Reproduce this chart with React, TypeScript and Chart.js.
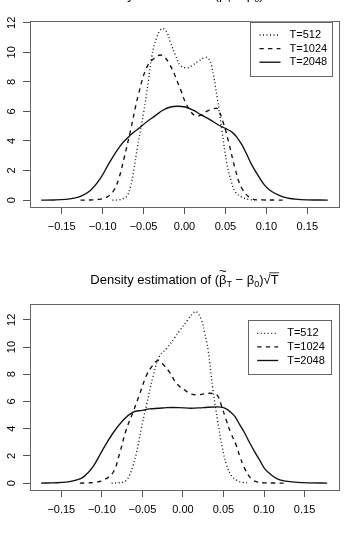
import { useEffect, useRef } from "react";
import { Chart, registerables } from "chart.js";

Chart.register(...registerables);

const FONT = '"Liberation Sans", Arial, Helvetica, sans-serif';

// Axis tick values
const xTicks = [-0.15, -0.1, -0.05, 0, 0.05, 0.1, 0.15];
const yTicks = [0, 2, 4, 6, 8, 10, 12];
const seriesLabels = ["T=512", "T=1024", "T=2048"];

// Upper panel: kernel density of (beta-hat_T - beta_0) * sqrt(T)
const hatX512 = [-0.088, -0.08, -0.074, -0.07, -0.066, -0.062, -0.058, -0.05, -0.044, -0.04, -0.034, -0.0276, -0.022, -0.0174, -0.011, -0.005, 0.003, 0.009, 0.017, 0.025, 0.029, 0.033, 0.04, 0.046, 0.052, 0.057, 0.062, 0.07, 0.078, 0.086];
const hatY512 = [0, 0.02, 0.12, 0.3, 0.9, 2.0, 3.4, 5.9, 8.1, 9.7, 11.0, 11.6, 11.4, 10.7, 9.8, 9.1, 8.95, 9.1, 9.4, 9.65, 9.6, 9.1, 6.9, 4.6, 2.4, 1.3, 0.56, 0.2, 0.05, 0];
const hatX1024 = [-0.127, -0.115, -0.105, -0.095, -0.087, -0.08, -0.074, -0.066, -0.056, -0.046, -0.037, -0.0276, -0.0174, -0.005, 0.003, 0.013, 0.02, 0.027, 0.034, 0.04, 0.047, 0.054, 0.062, 0.07, 0.082, 0.095, 0.11, 0.125];
const hatY1024 = [0, 0.01, 0.05, 0.2, 0.6, 1.5, 2.8, 4.7, 7.2, 9.0, 9.6, 9.8, 9.1, 7.5, 6.4, 5.7, 5.75, 6.0, 6.15, 6.2, 5.3, 3.9, 2.1, 0.8, 0.1, 0.02, 0.005, 0];
const hatX2048 = [-0.175, -0.16, -0.145, -0.135, -0.127, -0.115, -0.103, -0.091, -0.078, -0.066, -0.056, -0.046, -0.036, -0.026, -0.017, -0.009, 0.001, 0.01, 0.021, 0.031, 0.041, 0.05, 0.058, 0.064, 0.07, 0.076, 0.082, 0.09, 0.098, 0.106, 0.115, 0.125, 0.135, 0.15, 0.175];
const hatY2048 = [0, 0.01, 0.05, 0.13, 0.25, 0.65, 1.45, 2.6, 3.7, 4.4, 4.85, 5.3, 5.7, 6.1, 6.3, 6.35, 6.3, 6.1, 5.75, 5.45, 5.1, 4.85, 4.6, 4.25, 3.75, 3.1, 2.4, 1.65, 1.0, 0.6, 0.34, 0.15, 0.07, 0.02, 0];

// Lower panel: kernel density of (beta-tilde_T - beta_0) * sqrt(T)
const tilX512 = [-0.088, -0.08, -0.074, -0.07, -0.066, -0.062, -0.057, -0.051, -0.045, -0.037, -0.029, -0.02, -0.01, -0.004, 0.006, 0.012, 0.0165, 0.0227, 0.027, 0.031, 0.037, 0.043, 0.049, 0.054, 0.06, 0.067, 0.074, 0.082];
const tilY512 = [0, 0.02, 0.07, 0.2, 0.55, 1.2, 2.3, 4.1, 5.7, 7.8, 9.3, 9.9, 10.7, 11.2, 12.0, 12.45, 12.6, 12.0, 11.0, 9.8, 6.9, 4.5, 2.5, 1.3, 0.55, 0.18, 0.05, 0];
const tilX1024 = [-0.127, -0.117, -0.107, -0.097, -0.086, -0.078, -0.07, -0.061, -0.053, -0.045, -0.038, -0.031, -0.024, -0.016, -0.01, -0.004, 0.002, 0.01, 0.02, 0.031, 0.039, 0.043, 0.047, 0.053, 0.059, 0.066, 0.07, 0.076, 0.084, 0.092, 0.101, 0.113, 0.127];
const tilY1024 = [0, 0.02, 0.07, 0.25, 0.8, 2.2, 3.9, 5.3, 6.6, 7.9, 8.6, 9.0, 8.7, 8.1, 7.5, 7.1, 6.85, 6.55, 6.5, 6.6, 6.55, 6.4, 5.8, 4.7, 3.7, 2.75, 2.0, 1.1, 0.33, 0.08, 0.02, 0.005, 0];
const tilX2048 = [-0.175, -0.16, -0.144, -0.133, -0.123, -0.111, -0.0985, -0.086, -0.074, -0.062, -0.05, -0.041, -0.03, -0.02, -0.005, 0.01, 0.025, 0.043, 0.05, 0.055, 0.06, 0.064, 0.07, 0.076, 0.082, 0.088, 0.095, 0.101, 0.109, 0.117, 0.127, 0.138, 0.155, 0.178];
const tilY2048 = [0, 0.02, 0.07, 0.2, 0.44, 1.2, 2.5, 3.7, 4.6, 5.2, 5.35, 5.45, 5.5, 5.55, 5.55, 5.5, 5.55, 5.6, 5.55, 5.4, 5.15, 4.9, 4.3, 3.7, 3.0, 2.35, 1.65, 1.05, 0.6, 0.3, 0.15, 0.07, 0.02, 0];

const dashes: number[][] = [[1, 2.5], [4.3, 4.3], []];

const fmtX = (v: number) => v.toFixed(2).replace("-", "\u2212");

// Frame around the plotting region
const framePlugin = {
  id: "frame",
  afterDraw(chart: any) {
    const { ctx, chartArea: a } = chart;
    ctx.save();
    ctx.strokeStyle = "#666";
    ctx.lineWidth = 1;
    ctx.strokeRect(Math.round(a.left) + 0.5, Math.round(a.top) + 0.5, Math.round(a.right - a.left), Math.round(a.bottom - a.top));
    ctx.restore();
  },
};

// Legend inside the plotting region, built from the datasets
const boxLegendPlugin = {
  id: "boxLegend",
  afterDraw(chart: any, _args: any, opts: any) {
    const { ctx } = chart;
    const { left, top, width, height } = opts;
    ctx.save();
    ctx.fillStyle = "#fff";
    ctx.fillRect(left, top, width, height);
    ctx.strokeStyle = "#666";
    ctx.lineWidth = 1;
    ctx.strokeRect(Math.round(left) + 0.5, Math.round(top) + 0.5, Math.round(width), Math.round(height));
    ctx.font = `11px ${FONT}`;
    ctx.textBaseline = "middle";
    ctx.fillStyle = "#000";
    chart.data.datasets.forEach((ds: any, i: number) => {
      const y = top + 13.3 + i * 13.6;
      ctx.beginPath();
      ctx.setLineDash(ds.borderDash || []);
      ctx.strokeStyle = ds.borderColor;
      ctx.lineWidth = ds.borderWidth;
      ctx.moveTo(left + 9.5, y);
      ctx.lineTo(left + 30.5, y);
      ctx.stroke();
      ctx.setLineDash([]);
      ctx.fillText(ds.label, left + 39.5, y);
    });
    ctx.restore();
  },
};

// Title with math notation: Density estimation of (beta_T - beta_0) sqrt(T)
const mathTitlePlugin = {
  id: "mathTitle",
  afterDraw(chart: any, _args: any, opts: any) {
    const { ctx, chartArea: a } = chart;
    const size = 13;
    const sub = 9;
    const main = `${size}px ${FONT}`;
    const small = `${sub}px ${FONT}`;
    const base = opts.baseline;
    ctx.save();
    ctx.fillStyle = "#000";
    ctx.textBaseline = "alphabetic";
    ctx.textAlign = "left";
    const parts: { t: string; f: string; dy: number; kind?: string }[] = [
      { t: "Density estimation of (", f: main, dy: 0 },
      { t: "\u03B2", f: main, dy: 0, kind: "accent" },
      { t: "T", f: small, dy: 3 },
      { t: " \u2212 \u03B2", f: main, dy: 0 },
      { t: "0", f: small, dy: 3 },
      { t: ")", f: main, dy: 0 },
      { t: "\u221A", f: main, dy: 0, kind: "root" },
      { t: "T", f: main, dy: 0, kind: "bar" },
    ];
    let total = 0;
    const widths = parts.map((p) => {
      ctx.font = p.f;
      const w = ctx.measureText(p.t).width;
      total += w;
      return w;
    });
    let x = (a.left + a.right) / 2 - total / 2;
    parts.forEach((p, i) => {
      ctx.font = p.f;
      ctx.fillText(p.t, x, base + p.dy);
      if (p.kind === "accent") {
        ctx.font = `${size}px ${FONT}`;
        ctx.textAlign = "center";
        ctx.fillText(opts.accent, x + widths[i] / 2, base - 9);
        ctx.textAlign = "left";
      }
      if (p.kind === "bar") {
        ctx.beginPath();
        ctx.strokeStyle = "#000";
        ctx.lineWidth = 0.8;
        ctx.moveTo(x - 1.5, base - 11.5);
        ctx.lineTo(x + widths[i] + 0.5, base - 11.5);
        ctx.stroke();
      }
      x += widths[i];
    });
    ctx.restore();
  },
};

type PanelProps = {
  top: number;
  xs: number[][];
  ys: number[][];
  xMin: number;
  xMax: number;
  yMin: number;
  yMax: number;
  accent: string;
  titleBaseline: number;
  legendLeft: number;
  legendTop: number;
  legendWidth: number;
};

function DensityPanel(props: PanelProps) {
  const ref = useRef<HTMLCanvasElement | null>(null);
  useEffect(() => {
    if (!ref.current) return;
    const datasets = seriesLabels.map((label, i) => ({
      label,
      data: props.xs[i].map((x, j) => ({ x, y: props.ys[i][j] })),
      borderColor: "#111",
      borderWidth: 1.35,
      borderDash: dashes[i],
      pointRadius: 0,
      fill: false,
      tension: 0.4,
    }));
    const tickColor = "#555";
    const chart = new Chart(ref.current, {
      type: "line",
      data: { datasets },
      plugins: [framePlugin, boxLegendPlugin, mathTitlePlugin],
      options: {
        animation: false,
        responsive: false,
        devicePixelRatio: 1,
        layout: { padding: { top: 38, right: 12, left: 0, bottom: 0 } },
        plugins: {
          legend: { display: false },
          tooltip: { enabled: false },
          boxLegend: { left: props.legendLeft, top: props.legendTop, width: props.legendWidth, height: 54.3 },
          mathTitle: { accent: props.accent, baseline: props.titleBaseline },
        } as any,
        scales: {
          x: {
            type: "linear",
            min: props.xMin,
            max: props.xMax,
            afterBuildTicks: (s: any) => {
              s.ticks = xTicks.map((v) => ({ value: v }));
            },
            afterFit: (s: any) => {
              s.height = 43;
            },
            grid: { drawOnChartArea: false, drawTicks: true, tickLength: 7, color: tickColor, lineWidth: 1 },
            border: { display: false },
            ticks: {
              autoSkip: false,
              maxRotation: 0,
              padding: 6,
              color: "#000",
              font: { family: FONT, size: 11 },
              callback: (v: any) => fmtX(Number(v)),
            },
          },
          y: {
            type: "linear",
            min: props.yMin,
            max: props.yMax,
            afterBuildTicks: (s: any) => {
              s.ticks = yTicks.map((v) => ({ value: v }));
            },
            afterFit: (s: any) => {
              s.width = 30;
            },
            grid: { drawOnChartArea: false, drawTicks: true, tickLength: 7, color: tickColor, lineWidth: 1 },
            border: { display: false },
            ticks: {
              autoSkip: false,
              minRotation: 90,
              maxRotation: 90,
              crossAlign: "center",
              padding: 5,
              color: "#000",
              font: { family: FONT, size: 11 },
              callback: (v: any) => String(v),
            },
          },
        },
      },
    });
    return () => chart.destroy();
  }, []);
  return (
    <canvas
      ref={ref}
      width={351}
      height={267}
      style={{ position: "absolute", left: 0, top: props.top, width: 351, height: 267 }}
    />
  );
}

export default function App() {
  return (
    <div style={{ position: "absolute", left: 0, top: 0, width: 351, height: 533, overflow: "hidden", background: "#fff" }}>
      <DensityPanel
        top={-17}
        xs={[hatX512, hatX1024, hatX2048]}
        ys={[hatY512, hatY1024, hatY2048]}
        xMin={-0.1887}
        xMax={0.1887}
        yMin={-0.466}
        yMax={12.12}
        accent={"^"}
        titleBaseline={16}
        legendLeft={250}
        legendTop={38.7}
        legendWidth={82.3}
      />
      <DensityPanel
        top={266}
        xs={[tilX512, tilX1024, tilX2048]}
        ys={[tilY512, tilY1024, tilY2048]}
        xMin={-0.1886}
        xMax={0.1925}
        yMin={-0.506}
        yMax={13.16}
        accent={"~"}
        titleBaseline={18.3}
        legendLeft={247.7}
        legendTop={54}
        legendWidth={82.6}
      />
    </div>
  );
}
